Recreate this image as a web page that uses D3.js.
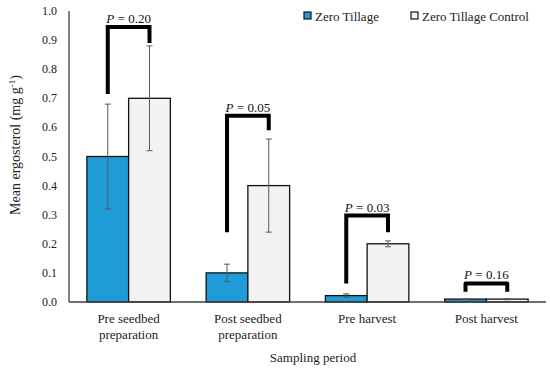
<!DOCTYPE html>
<html>
<head>
<meta charset="utf-8">
<script src="https://cdn.jsdelivr.net/npm/d3@7"></script>
<style>
  body { margin: 0; background: #fff; }
  svg { display: block; }
</style>
</head>
<body>
<div id="chart"></div>
<script>
const categories = [["Pre seedbed", "preparation"], ["Post seedbed", "preparation"], ["Pre harvest"], ["Post harvest"]];
const seriesNames = ["Zero Tillage", "Zero Tillage Control"];
const zeroTillage = [0.50, 0.10, 0.022, 0.01];
const zeroTillageErr = [0.18, 0.03, 0.006, 0.002];
const control = [0.70, 0.40, 0.20, 0.01];
const controlErr = [0.18, 0.16, 0.01, 0.002];
const yTicks = [0, 0.1, 0.2, 0.3, 0.4, 0.5, 0.6, 0.7, 0.8, 0.9, 1.0];
// bracket: top, left foot, right foot (in data units), label
const pLabels = ["P = 0.20", "P = 0.05", "P = 0.03", "P = 0.16"];
const bracketTop = [0.945, 0.64, 0.297, 0.064];
const bracketLeft = [0.715, 0.24, 0.064, 0.035];
const bracketRight = [0.89, 0.59, 0.24, 0.035];

const width = 550, height = 369;
const margin = { top: 11, right: 4, bottom: 67, left: 69 };
const font = "'Liberation Serif', 'DejaVu Serif', serif";
const blue = "#1f9bd7";
const grey = "#f2f2f2";
const axisColor = "#404040";

const svg = d3.select("#chart").append("svg")
  .attr("width", width).attr("height", height)
  .style("font-family", font);

const x = d3.scaleBand()
  .domain(d3.range(categories.length))
  .range([margin.left, width - margin.right])
  .paddingInner(0.3).paddingOuter(0.15);
const xSub = d3.scaleBand().domain([0, 1]).range([0, x.bandwidth()]);
const y = d3.scaleLinear().domain([0, 1]).range([height - margin.bottom, margin.top]);

// y tick labels
svg.append("g")
  .selectAll("text")
  .data(yTicks)
  .join("text")
  .attr("x", 57)
  .attr("y", d => y(d))
  .attr("text-anchor", "end")
  .attr("dominant-baseline", "central")
  .attr("font-size", "12px")
  .attr("fill", "#222")
  .text(d => d3.format(".1f")(d));

// bars
const series = [
  { vals: zeroTillage, errs: zeroTillageErr, fill: blue },
  { vals: control, errs: controlErr, fill: grey },
];
series.forEach((s, si) => {
  const g = svg.append("g");
  g.selectAll("rect")
    .data(s.vals)
    .join("rect")
    .attr("x", (d, i) => x(i) + xSub(si))
    .attr("y", d => y(d))
    .attr("width", xSub.bandwidth())
    .attr("height", d => y(0) - y(d))
    .attr("fill", s.fill)
    .attr("stroke", "#111")
    .attr("stroke-width", 1.3);
});

// error bars
series.forEach((s, si) => {
  const g = svg.append("g").attr("stroke", "#595959").attr("stroke-width", 1);
  s.vals.forEach((v, i) => {
    const cx = x(i) + xSub(si) + xSub.bandwidth() / 2;
    const lo = y(v - s.errs[i]), hi = y(v + s.errs[i]);
    g.append("line").attr("x1", cx).attr("x2", cx).attr("y1", lo).attr("y2", hi);
    g.append("line").attr("x1", cx - 3).attr("x2", cx + 3).attr("y1", lo).attr("y2", lo);
    g.append("line").attr("x1", cx - 3).attr("x2", cx + 3).attr("y1", hi).attr("y2", hi);
  });
});

// axes
svg.append("line")
  .attr("x1", margin.left).attr("x2", margin.left)
  .attr("y1", y(1)).attr("y2", y(0))
  .attr("stroke", axisColor).attr("stroke-width", 1.3);
svg.append("line")
  .attr("x1", margin.left).attr("x2", width - 4)
  .attr("y1", y(0)).attr("y2", y(0))
  .attr("stroke", axisColor).attr("stroke-width", 1.3);

// significance brackets
categories.forEach((c, i) => {
  const xl = x(i) + xSub(0) + xSub.bandwidth() / 2;
  const xr = x(i) + xSub(1) + xSub.bandwidth() / 2;
  svg.append("path")
    .attr("d", `M${xl},${y(bracketLeft[i])}V${y(bracketTop[i])}H${xr}V${y(bracketRight[i])}`)
    .attr("fill", "none")
    .attr("stroke", "#000")
    .attr("stroke-width", 4)
    .attr("stroke-linejoin", i === 3 ? "round" : "miter");
  const t = svg.append("text")
    .attr("x", (xl + xr) / 2)
    .attr("y", y(bracketTop[i]) - 4)
    .attr("text-anchor", "middle")
    .attr("font-size", "13px")
    .attr("fill", "#111");
  t.append("tspan").attr("font-style", "italic").text("P");
  t.append("tspan").text(pLabels[i].slice(1));
});

// category labels
categories.forEach((lines, i) => {
  const t = svg.append("text")
    .attr("x", x(i) + x.bandwidth() / 2)
    .attr("y", 323)
    .attr("text-anchor", "middle")
    .attr("font-size", "13px")
    .attr("fill", "#222");
  lines.forEach((l, k) => {
    t.append("tspan").attr("x", x(i) + x.bandwidth() / 2).attr("dy", k === 0 ? 0 : 16).text(l);
  });
});

// axis titles
svg.append("text")
  .attr("x", 313).attr("y", 362)
  .attr("text-anchor", "middle")
  .attr("font-size", "13px")
  .attr("fill", "#222")
  .text("Sampling period");

const yt = svg.append("text")
  .attr("transform", "translate(20,145) rotate(-90)")
  .attr("text-anchor", "middle")
  .attr("font-size", "14px")
  .attr("fill", "#222");
yt.append("tspan").text("Mean ergosterol (mg g");
yt.append("tspan").attr("font-size", "9px").attr("dy", -5).text("-1");
yt.append("tspan").attr("dy", 5).text(")");

// legend
const legendX = [304, 411];
seriesNames.forEach((name, i) => {
  svg.append("rect")
    .attr("x", legendX[i]).attr("y", 12)
    .attr("width", 7).attr("height", 7)
    .attr("fill", i === 0 ? blue : grey)
    .attr("stroke", "#111").attr("stroke-width", 1.2);
  svg.append("text")
    .attr("x", legendX[i] + 11).attr("y", 16)
    .attr("dominant-baseline", "central")
    .attr("font-size", "13px")
    .attr("fill", "#222")
    .text(name);
});
</script>
</body>
</html>
